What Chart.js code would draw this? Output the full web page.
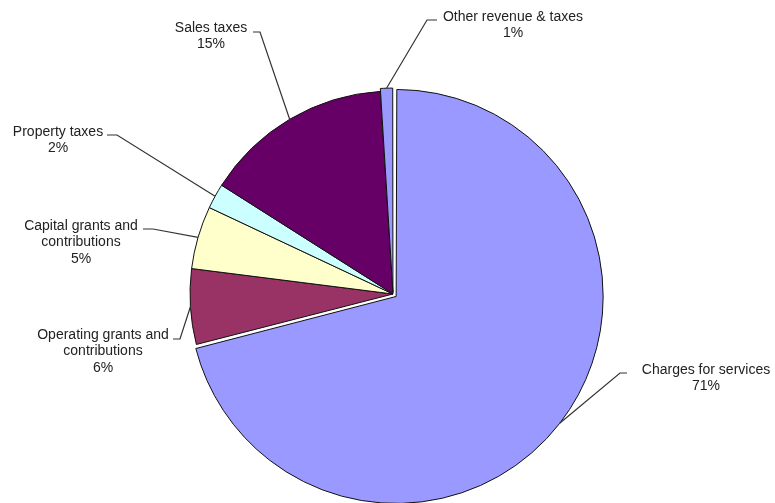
<!DOCTYPE html>
<html>
<head>
<meta charset="utf-8">
<script src="https://cdn.jsdelivr.net/npm/chart.js@4/dist/chart.umd.min.js"></script>
<style>
  html, body { margin: 0; padding: 0; background: #fff; }
  #wrap { width: 775px; height: 503px; }
</style>
</head>
<body>
<div id="wrap"><canvas id="revChart" width="775" height="503"></canvas></div>
<script>
// ===== DATA =====
const CATEGORIES = [
  'Charges for services',
  'Operating grants and contributions',
  'Capital grants and contributions',
  'Property taxes',
  'Sales taxes',
  'Other revenue & taxes',
];
const SHARES = [71, 6, 5, 2, 15, 1];
const COLORS = ['#9999FF', '#993366', '#FFFFCC', '#CCFFFF', '#660066', '#9999FF'];
const OFFSETS = [16, 0, 0, 0, 0, 6];

// label text lines (wrapped like the original) and where they sit
const LABEL_LINES = [
  ['Charges for services'],
  ['Operating grants and', 'contributions'],
  ['Capital grants and', 'contributions'],
  ['Property taxes'],
  ['Sales taxes'],
  ['Other revenue & taxes'],
];
// x = text centre, y = first line, ax/ay = leader start, ex = elbow
const LABEL_POS = [
  { x: 706, y: 370, ax: 627, ay: 373, ex: 620 },
  { x: 103, y: 335, ax: 173, ay: 339, ex: 180 },
  { x: 81,  y: 226, ax: 143, ay: 229, ex: 153 },
  { x: 58,  y: 132, ax: 107, ay: 135, ex: 117 },
  { x: 211, y: 28,  ax: 253, ay: 32,  ex: 260 },
  { x: 513, y: 17,  ax: 437, ay: 20,  ex: 427 },
];
const LINE_H = 16.5;

const leaderLabels = {
  id: 'leaderLabels',
  afterDatasetsDraw(chart) {
    const ctx = chart.ctx;
    const meta = chart.getDatasetMeta(0);
    const total = SHARES.reduce((a, b) => a + b, 0);
    ctx.save();
    ctx.font = '14px "Liberation Sans", Arial, sans-serif';
    ctx.fillStyle = '#222';
    ctx.textAlign = 'center';
    ctx.textBaseline = 'middle';
    ctx.strokeStyle = '#333';
    ctx.lineWidth = 1.2;
    meta.data.forEach((arc, i) => {
      const p = LABEL_POS[i];
      const lines = LABEL_LINES[i].concat([Math.round(SHARES[i] / total * 100) + '%']);
      lines.forEach((t, k) => ctx.fillText(t, p.x, p.y + k * LINE_H));

      // edge point at the slice's mid angle, incl. the explode shift
      const mid = (arc.startAngle + arc.endAngle) / 2;
      const circ = arc.endAngle - arc.startAngle;
      const off = (arc.options.offset || 0) / 4;
      const shift = off + off * (1 - Math.sin(Math.min(Math.PI, circ)));
      const r = arc.outerRadius + shift;
      const ex = arc.x + Math.cos(mid) * r;
      const ey = arc.y + Math.sin(mid) * r;

      ctx.beginPath();
      ctx.moveTo(p.ax, p.ay);
      ctx.lineTo(p.ex, p.ay);
      ctx.lineTo(ex, ey);
      ctx.stroke();
    });
    ctx.restore();
  },
};

new Chart(document.getElementById('revChart'), {
  type: 'pie',
  data: {
    labels: CATEGORIES,
    datasets: [{
      data: SHARES,
      backgroundColor: COLORS,
      borderColor: '#111',
      borderWidth: 1,
      offset: OFFSETS,
      clip: false,
    }],
  },
  options: {
    responsive: false,
    animation: false,
    radius: 203,
    layout: { padding: { left: 11, right: 0, top: 85, bottom: 0 } },
    plugins: {
      legend: { display: false },
      tooltip: { enabled: false },
    },
  },
  plugins: [leaderLabels],
});
</script>
</body>
</html>
